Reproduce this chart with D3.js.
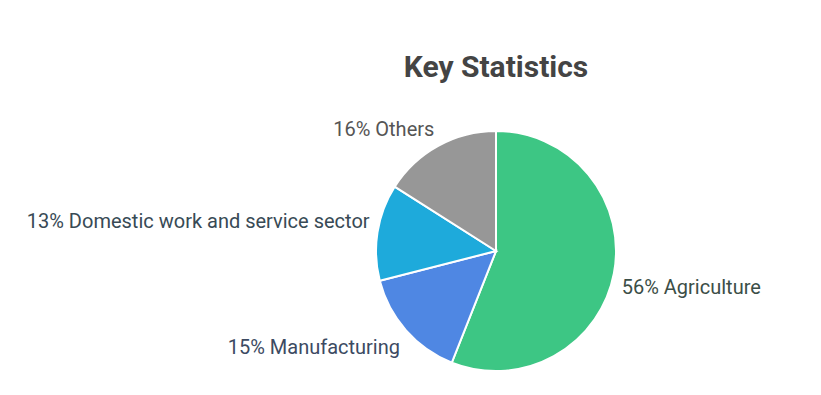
<!DOCTYPE html>
<html>
<head>
<meta charset="utf-8">
<script src="https://cdn.jsdelivr.net/npm/d3@7"></script>
<style>
  html, body { margin: 0; padding: 0; background: #ffffff; }
  svg { display: block; font-family: Roboto, "Noto Sans", sans-serif; }
</style>
</head>
<body>
<svg id="chart" width="821" height="395"></svg>
<script>
const categories = ["Agriculture", "Manufacturing", "Domestic work and service sector", "Others"];
const shares = [56, 15, 13, 16];
const sliceColors = ["#3dc684", "#4f87e3", "#1eaadb", "#979797"];
const labelColors = ["#3b4e47", "#3c4a62", "#384a55", "#555555"];

const width = 821;
const height = 395;
const cx = 496;
const cy = 251;
const radius = 120;

const svg = d3.select("#chart");

svg.append("text")
    .attr("x", 496)
    .attr("y", 77)
    .attr("text-anchor", "middle")
    .attr("font-size", 30)
    .attr("font-weight", 700)
    .attr("fill", "#444444")
    .text("Key Statistics");

const data = categories.map((c, i) => ({ name: c, value: shares[i], color: sliceColors[i], label: labelColors[i] }));

const pie = d3.pie()
    .value(d => d.value)
    .sort(null);

const arc = d3.arc()
    .innerRadius(0)
    .outerRadius(radius);

// labels sit just outside the rim
const labelArc = d3.arc()
    .innerRadius(radius + 8)
    .outerRadius(radius + 8);

const g = svg.append("g")
    .attr("transform", `translate(${cx},${cy})`);

const arcs = pie(data);

g.selectAll("path")
    .data(arcs)
    .join("path")
    .attr("d", arc)
    .attr("fill", d => d.data.color)
    .attr("stroke", "#ffffff")
    .attr("stroke-width", 2);

g.selectAll("text.lbl")
    .data(arcs)
    .join("text")
    .attr("class", "lbl")
    .each(function(d) {
        const [x, y] = labelArc.centroid(d);
        const right = x >= 0;
        d3.select(this)
            .attr("x", x)
            .attr("y", y + (y >= 0 ? 13.5 : -8.5))
            .attr("text-anchor", right ? "start" : "end");
    })
    .attr("dominant-baseline", "middle")
    .attr("font-size", 20)
    .attr("fill", d => d.data.label)
    .text(d => `${d.data.value}% ${d.data.name}`);
</script>
</body>
</html>
